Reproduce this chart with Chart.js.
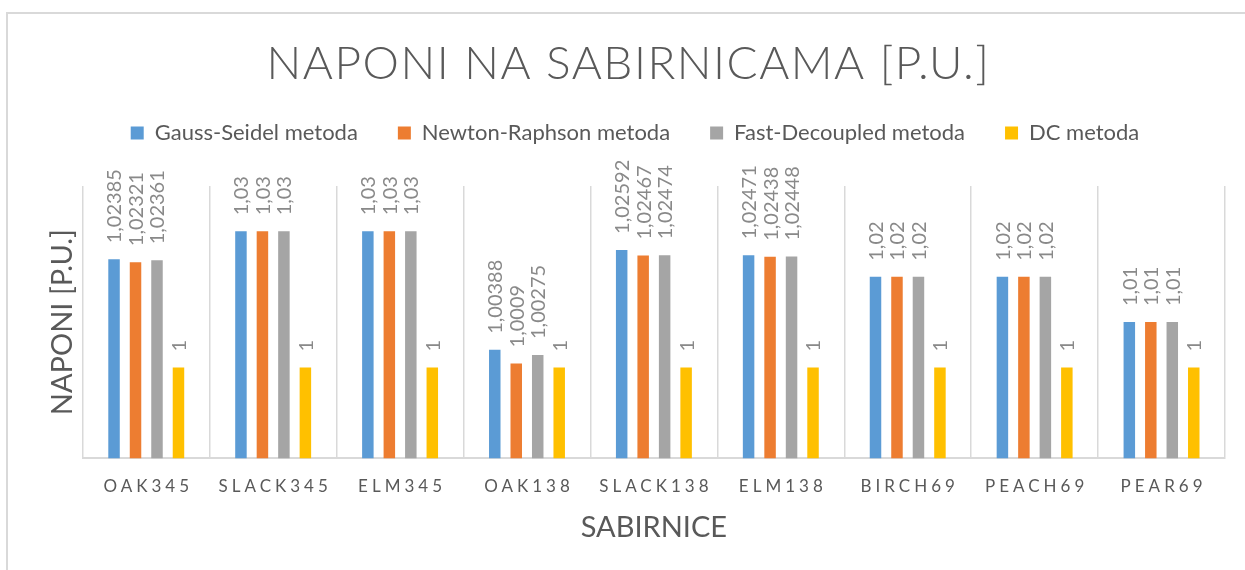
<!DOCTYPE html>
<html>
<head>
<meta charset="utf-8">
<script src="https://cdn.jsdelivr.net/npm/chart.js@4.4.1/dist/chart.umd.min.js"></script>
<style>
html, body { margin: 0; padding: 0; background: #fff; overflow: hidden; width: 1245px; height: 570px; }
#frame { position: absolute; left: 6px; top: 12px; width: 1300px; height: 600px; border: 2px solid #d9d9d9; }
#chart { position: absolute; left: 0; top: 0; }
</style>
</head>
<body>
<div id="frame"></div>
<canvas id="chart" width="1245" height="570"></canvas>
<script>
const categories = ['OAK345', 'SLACK345', 'ELM345', 'OAK138', 'SLACK138', 'ELM138', 'BIRCH69', 'PEACH69', 'PEAR69'];
const gaussSeidel = [1.02385, 1.03, 1.03, 1.00388, 1.02592, 1.02471, 1.02, 1.02, 1.01];
const newtonRaphson = [1.02321, 1.03, 1.03, 1.0009, 1.02467, 1.02438, 1.02, 1.02, 1.01];
const fastDecoupled = [1.02361, 1.03, 1.03, 1.00275, 1.02474, 1.02448, 1.02, 1.02, 1.01];
const dcMetoda = [1, 1, 1, 1, 1, 1, 1, 1, 1];
const seriesNames = ['Gauss-Seidel metoda', 'Newton-Raphson metoda', 'Fast-Decoupled metoda', 'DC metoda'];
const seriesColors = ['#5b9bd5', '#ed7d31', '#a5a5a5', '#ffc000'];
const chartTitle = 'NAPONI NA SABIRNICAMA [P.U.]';
const xTitle = 'SABIRNICE';
const yTitle = 'NAPONI [P.U.]';

const FONT = 'Lato';
const textColor = '#595959';

function fmt(v) {
    return String(v).replace('.', ',');
}

// extra room under the legend (chart.js has no legend margin option)
const legendSpacer = {
    id: 'legendSpacer',
    beforeInit(chart) {
        const fit = chart.legend.fit;
        chart.legend.fit = function () {
            fit.call(this);
            this.height += 32;
        };
    }
};

// title and category labels use letter spacing, so they are drawn here
const spacedText = {
    id: 'spacedText',
    afterDraw(chart) {
        const ctx = chart.ctx;
        const x = chart.scales.x;
        ctx.save();
        ctx.fillStyle = textColor;
        ctx.textAlign = 'center';
        ctx.textBaseline = 'middle';
        ctx.font = `300 46px ${FONT}`;
        ctx.letterSpacing = '1.5px';
        ctx.fillText(chartTitle, chart.width / 2 + 6, 64);
        ctx.font = `17px ${FONT}`;
        ctx.letterSpacing = '4px';
        categories.forEach((c, i) => ctx.fillText(c, x.getPixelForValue(i) + 2, x.top + 28));
        ctx.restore();
    }
};

const barLabels = {
    id: 'barLabels',
    afterDatasetsDraw(chart) {
        const ctx = chart.ctx;
        ctx.save();
        ctx.font = `20px ${FONT}`;
        ctx.fillStyle = '#898989';
        ctx.textAlign = 'left';
        ctx.textBaseline = 'middle';
        chart.data.datasets.forEach((ds, di) => {
            chart.getDatasetMeta(di).data.forEach((bar, i) => {
                ctx.save();
                ctx.translate(bar.x + 1, bar.y - 16);
                ctx.rotate(-Math.PI / 2);
                ctx.fillText(fmt(ds.data[i]), 0, 0);
                ctx.restore();
            });
        });
        ctx.restore();
    }
};

const values = [gaussSeidel, newtonRaphson, fastDecoupled, dcMetoda];

new Chart(document.getElementById('chart'), {
    type: 'bar',
    data: {
        labels: categories,
        datasets: values.map((data, i) => ({
            label: seriesNames[i],
            data,
            backgroundColor: seriesColors[i],
            categoryPercentage: 0.677,
            barPercentage: 0.535
        }))
    },
    options: {
        responsive: false,
        animation: false,
        layout: { padding: { top: 82, left: 45, right: 20, bottom: 20 } },
        plugins: {
            legend: {
                position: 'top',
                labels: {
                    boxWidth: 13,
                    boxHeight: 13,
                    padding: 40,
                    color: textColor,
                    font: { family: FONT, size: 22 }
                }
            },
            tooltip: { enabled: false }
        },
        scales: {
            x: {
                grid: { color: '#d9d9d9', lineWidth: 1.5, drawTicks: false },
                border: { color: '#d9d9d9', width: 2 },
                ticks: { display: false },
                title: {
                    display: true,
                    text: xTitle,
                    color: textColor,
                    font: { family: FONT, size: 29 },
                    padding: { top: 52, bottom: 5 }
                }
            },
            y: {
                min: 0.98,
                max: 1.04,
                grid: { display: false, drawTicks: false },
                border: { display: false },
                ticks: { display: false },
                title: {
                    display: true,
                    text: yTitle,
                    color: textColor,
                    font: { family: FONT, size: 29 },
                    padding: { top: 0, bottom: 3 }
                }
            }
        }
    },
    plugins: [legendSpacer, spacedText, barLabels]
});
</script>
</body>
</html>
